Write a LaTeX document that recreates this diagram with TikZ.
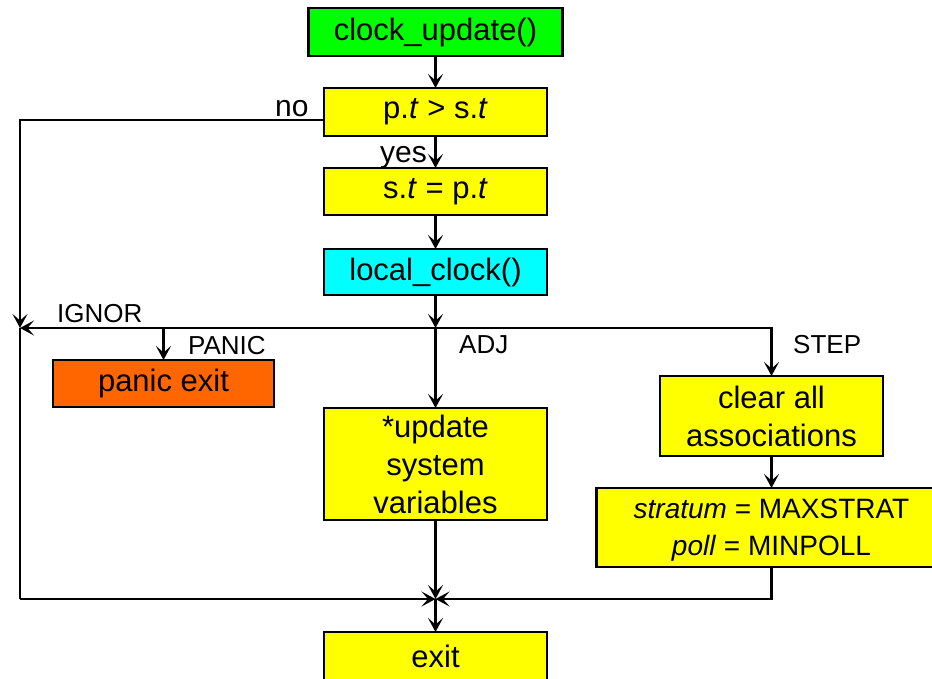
\documentclass[tikz,border=0pt]{standalone}
\usepackage{fontspec}
\setmainfont{Liberation Sans}
\usetikzlibrary{arrows.meta,calc}
\definecolor{cgreen}{HTML}{00FF00}
\definecolor{cyellow}{HTML}{FFFF00}
\definecolor{ccyan}{HTML}{00FFFF}
\definecolor{corange}{HTML}{FF6600}
\begin{document}
\begin{tikzpicture}[x=1pt,y=-1pt,
 box/.style={draw=black, line width=2.6pt, inner sep=0pt, outer sep=0pt, align=center, font=\fontsize{31}{38}\selectfont, fill=cyellow},
 conn/.style={line width=2.1pt, -{Stealth[length=14pt,width=15pt,inset=6.5pt]}},
 plainline/.style={line width=2.1pt},
 lbl/.style={inner sep=0pt, anchor=base west, font=\fontsize{26}{30}\selectfont},
 lblbig/.style={inner sep=0pt, anchor=base west, font=\fontsize{30}{36}\selectfont}]
\useasboundingbox (0,0) rectangle (932,678);
% boxes
\node[box, fill=cgreen, minimum width=254pt, minimum height=48pt] (cu) at (435.5,32) {clock\_update()};
\node[box, minimum width=223pt, minimum height=48pt] (cmp) at (435.5,112) {p.\textit{t} > s.\textit{t}};
\node[box, minimum width=223pt, minimum height=47pt] (set) at (435.5,191.5) {s.\textit{t} = p.\textit{t}};
\node[box, fill=ccyan, minimum width=223pt, minimum height=46pt] (lc) at (435.5,272) {local\_clock()};
\node[box, fill=corange, minimum width=221pt, minimum height=47pt] (panic) at (163.5,383.5) {panic exit};
\node[box, minimum width=223pt, minimum height=112pt] (upd) at (435.5,464) {*update\\system\\variables};
\node[box, minimum width=223pt, minimum height=80pt] (clr) at (771.5,416) {clear all\\associations};
\node[box, minimum width=350pt, minimum height=79pt, font=\fontsize{28}{37}\selectfont, text depth=0pt] (strat) at (771.5,527.5) {\textit{stratum} = MAXSTRAT\\\textit{poll} = MINPOLL};
\node[box, minimum width=223pt, minimum height=48pt] (exit) at (435.5,656) {exit};
% junctions
\coordinate (j) at (435.5,328);
\coordinate (L) at (20,328);
\coordinate (pj) at (163.5,328);
\coordinate (nw) at (cmp.west |- 0,120);
\coordinate (B) at (435.5,599);
\coordinate (BL) at (20,599);
% connectors
\draw[conn] (cu.south) -- (cmp.north);
\draw[conn] (cmp.south) -- (set.north);
\draw[conn] (set.south) -- (lc.north);
\draw[conn] (lc.south) -- (j);
\draw[conn] (nw) -| (L);
\draw[conn] (j) -- (L);
\draw[conn] (j) -| (clr.north);
\draw[conn] (j) -- (upd.north);
\draw[conn] (pj) -- (panic.north);
\draw[conn] (clr.south) -- (strat.north);
\draw[plainline] (L) -- (BL);
\draw[conn] (BL) -- (B);
\draw[conn] (upd.south) -- (B);
\draw[conn] (strat.south) |- (B);
\draw[conn] (B) -- (exit.north);
% labels
\node[lblbig] (no) at (275,116) {no};
\node[lblbig] (yes) at (380,162) {yes};
\node[lbl] (ignor) at (57,322) {IGNOR};
\node[lbl] (panl) at (188,354) {PANIC};
\node[lbl] (adj) at (459,353) {ADJ};
\node[lbl] (stepl) at (793,353) {STEP};
\end{tikzpicture}
\end{document}
